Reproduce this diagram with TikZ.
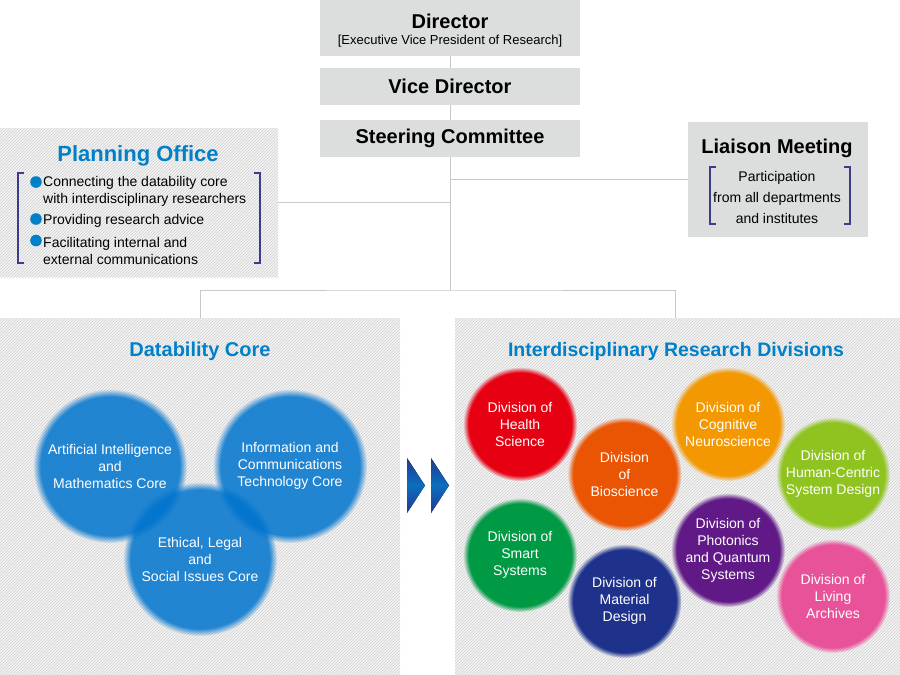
\documentclass[tikz,border=0pt]{standalone}
\usepackage{fontspec}
\setmainfont{Liberation Sans}
\usepackage{tikz}
\usetikzlibrary{patterns,fadings}
\definecolor{boxgray}{RGB}{220,221,221}
\definecolor{linegray}{RGB}{200,200,200}
\definecolor{hatchbg}{RGB}{243,243,243}
\definecolor{hatchline}{RGB}{208,208,208}
\definecolor{titleblue}{RGB}{0,128,200}
\definecolor{coreblue}{RGB}{0,116,206}
\definecolor{bracketblue}{RGB}{60,60,140}
\definecolor{arrownavy}{RGB}{35,55,145}
\definecolor{arrowblue}{RGB}{10,110,190}
\definecolor{healthred}{RGB}{230,0,18}
\definecolor{bioorange}{RGB}{234,85,4}
\definecolor{cogorange}{RGB}{243,152,0}
\definecolor{humangreen}{RGB}{143,195,31}
\definecolor{smartgreen}{RGB}{0,153,68}
\definecolor{materialnavy}{RGB}{30,50,140}
\definecolor{photonpurple}{RGB}{96,25,134}
\definecolor{livingpink}{RGB}{232,82,152}
\newcommand{\bodyfont}{\fontsize{14}{17}\selectfont}
\newcommand{\headfont}{\bfseries\fontsize{20}{24}\selectfont}
\newcommand{\division}[4]{\node[divdisc, fill=#2] (#1) at (#3) {#4}}
\newcommand{\coredisc}[3]{\node[coredisc] (#1) at (#2) {#3}}
\newcommand{\pdot}[1]{\fill[titleblue] (#1) circle (5.8pt)}

\begin{document}
\begin{tikzpicture}[x=1pt,y=-1pt,
    graybox/.style={rectangle, fill=boxgray, minimum width=260pt, inner sep=0pt, align=center},
    hatchbox/.style={rectangle, inner sep=0pt, fill=hatchbg,
      postaction={pattern=north east lines, pattern color=hatchline}},
    bluetitle/.style={text=titleblue, font=\headfont},
    link/.style={draw=linegray, line width=1pt},
    bracket/.style={draw=bracketblue, line width=1.1pt},
    divdisc/.style={circle, minimum size=114pt, inner sep=0pt, text=white, align=center,
      font=\bodyfont, path fading=circle with fuzzy edge 10 percent},
    coredisc/.style={circle, minimum size=154pt, inner sep=0pt, fill=coreblue, fill opacity=0.85,
      text opacity=1, text=white, align=center, font=\bodyfont,
      path fading=circle with fuzzy edge 10 percent},
    arrowhead/.style={top color=arrownavy, bottom color=arrownavy, middle color=arrowblue}]
  \useasboundingbox (0,0) rectangle (900,675);

  % top of the chart
  \node[graybox, minimum height=56pt] (director) at (450,28) {};
  \node[font=\headfont] (directortitle) at (450,21) {Director};
  \node[font=\fontsize{13}{15}\selectfont] (directorsub) at (450,41.5) {[Executive Vice President of Research]};
  \node[graybox, minimum height=37pt, font=\headfont] (vice) at (450,86.5) {Vice Director};
  \node[graybox, minimum height=37pt, font=\headfont] (steering) at (450,138.5) {Steering Committee};
  \coordinate (fork) at (450,290);

  % planning office
  \node[hatchbox, minimum width=278pt, minimum height=149pt] (planbox) at (139,202.5) {};
  \node[text=titleblue, font=\bfseries\fontsize{22}{26}\selectfont] (plantitle) at (138,156) {Planning Office};
  \node[anchor=west, align=left, font=\bodyfont, inner sep=0pt] (item1) at (43,191)
    {Connecting the datability core\\with interdisciplinary researchers};
  \node[anchor=west, align=left, font=\bodyfont, inner sep=0pt] (item2) at (43,221)
    {Providing research advice};
  \node[anchor=west, align=left, font=\bodyfont, inner sep=0pt] (item3) at (43,250.5)
    {Facilitating internal and\\external communications};
  \pdot{36,182};
  \pdot{36,219};
  \pdot{36,240.5};
  \draw[bracket] (24,173) -- (18,173) -- (18,263) -- (24,263);
  \draw[bracket] (254,173) -- (260,173) -- (260,263) -- (254,263);

  % liaison meeting
  \node[rectangle, fill=boxgray, minimum width=180pt, minimum height=115pt] (liaison) at (778,179.5) {};
  \node[font=\headfont] (liaisontitle) at (777,148) {Liaison Meeting};
  \node[align=center, font=\fontsize{14}{21}\selectfont] (liaisontext) at (777,197)
    {Participation\\from all departments\\and institutes};
  \draw[bracket] (716,167) -- (710,167) -- (710,224) -- (716,224);
  \draw[bracket] (844,167) -- (850,167) -- (850,224) -- (844,224);

  % panels below
  \node[hatchbox, minimum width=400pt, minimum height=357pt] (corebox) at (200,496.5) {};
  \node[hatchbox, minimum width=445pt, minimum height=357pt] (divbox) at (677.5,496.5) {};
  \node[bluetitle] (coretitle) at (200,351) {Datability Core};
  \node[bluetitle, font=\bfseries\fontsize{19.5}{24}\selectfont] (divtitle) at (676,351) {Interdisciplinary Research Divisions};

  % connectors
  \draw[link] (director) -- (vice);
  \draw[link] (vice) -- (steering);
  \draw[link] (steering) -- (fork);
  \draw[link] (planbox.east) -- (planbox.east -| fork);
  \draw[link] (liaison.west) -- (liaison.west -| fork);
  \draw[link] (corebox.north) |- (fork) -| ([xshift=-2.5pt]divbox.north);

  % datability core
  \coredisc{aimath}{110,466}{Artificial Intelligence\\and\\Mathematics Core};
  \coredisc{ict}{290,466}{Information and\\Communications\\Technology Core};
  \coredisc{elsi}{200,559}{Ethical, Legal\\and\\Social Issues Core};

  % arrows
  \foreach \x in {407,431}
    \fill[arrowhead] (\x,458) -- (\x+18,485.5) -- (\x,513) -- cycle;

  % divisions
  \division{health}{healthred}{520,424}{Division of\\Health\\Science};
  \division{bio}{bioorange}{624.5,474}{Division\\of\\Bioscience};
  \division{cognitive}{cogorange}{728,424}{Division of\\Cognitive\\Neuroscience};
  \division{human}{humangreen}{833,474}{Division of\\Human-Centric\\System Design};
  \division{smart}{smartgreen}{520,555}{Division of\\Smart\\Systems};
  \division{material}{materialnavy}{624.5,601}{Division of\\Material\\Design};
  \division{photonics}{photonpurple}{728,550}{Division of\\Photonics\\and Quantum\\Systems};
  \division{living}{livingpink}{833,596}{Division of\\Living\\Archives};
\end{tikzpicture}
\end{document}
